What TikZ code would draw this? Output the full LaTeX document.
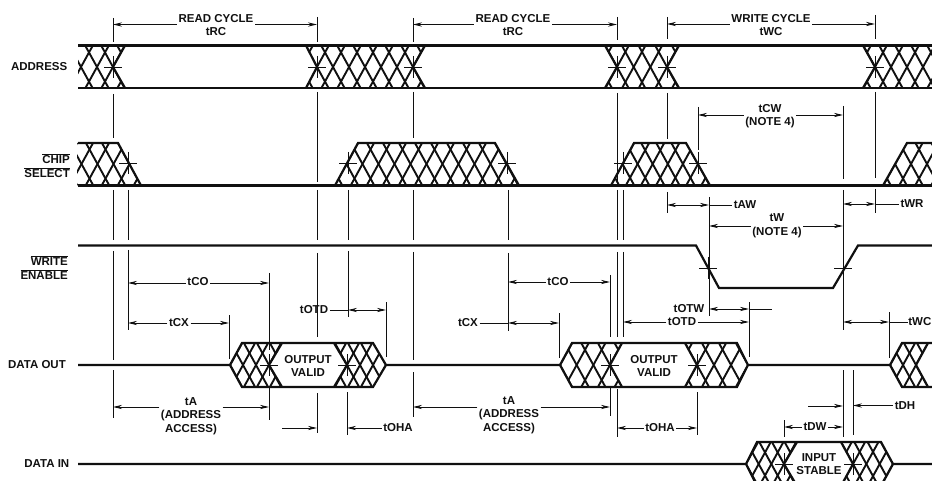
\documentclass[tikz,border=0pt]{standalone}
\usepackage{fontspec}
\setmainfont{Liberation Sans}
\usetikzlibrary{arrows.meta}
\definecolor{ink}{HTML}{101010}
\tikzset{
  x=1pt,y=-1pt,
  sig/.style={draw=ink,line width=2.2pt,line join=miter},
  hatchline/.style={draw=ink,line width=1.9pt},
  ext/.style={draw=ink,line width=0.9pt},
  mark line/.style={draw=ink,line width=0.7pt},
  arr/.style={draw=ink,line width=0.9pt,-{Stealth[length=9pt,width=4.2pt]}},
  arrs/.style={draw=ink,line width=0.9pt,{Stealth[length=9pt,width=4.2pt]}-{Stealth[length=9pt,width=4.2pt]}},
  lbl/.style={inner xsep=1.5pt,inner ysep=0pt,text=ink,align=center,
    font=\bfseries\fontsize{11.5}{13.6}\selectfont},
  sigl/.style={lbl,anchor=east,align=right}
}
% period, x0: phase, ymid, half height, polygon
\newcommand{\hatchreg}[5]{%
  \begin{scope}
    \clip #5 -- cycle;
    \foreach \k in {-9,...,12}{
      \draw[hatchline] ({#2+#1*\k-0.55*#4},{#3-#4}) -- ({#2+#1*\k+0.55*#4},{#3+#4});
      \draw[hatchline] ({#2+#1*\k+0.55*#4},{#3-#4}) -- ({#2+#1*\k-0.55*#4},{#3+#4});
    }
  \end{scope}}
\newcommand{\dimlr}[4]{%
  \draw[arr] (#1.west |- 0,#2) -- (#3,#2);
  \draw[arr] (#1.east |- 0,#2) -- (#4,#2);}
\newcommand{\crossmark}[2]{%
  \draw[mark line] ({#1-9},#2) -- ({#1+9},#2) ({#1},{#2-11}) -- ({#1},{#2+11});}
\begin{document}
\begin{tikzpicture}
\useasboundingbox (0,0) rectangle (932,481);
\clip (0,0) rectangle (932,481);

% ---------- ADDRESS
\hatchreg{16}{113}{67}{21.5}{(78,45.5) -- (125,45.5) -- (113,67) -- (125,88.5) -- (78,88.5)}
\hatchreg{16}{317}{67}{21.5}{(306,45.5) -- (425,45.5) -- (413,67) -- (425,88.5) -- (306,88.5) -- (317,67)}
\hatchreg{16.67}{617}{67}{21.5}{(605,45.5) -- (679,45.5) -- (667,67) -- (679,88.5) -- (605,88.5) -- (617,67)}
\hatchreg{16}{875}{67}{21.5}{(863,45.5) -- (940,45.5) -- (940,88.5) -- (863,88.5) -- (875,67)}
\draw[sig] (78,45.5) -- (932,45.5) (78,88) -- (932,88);
\draw[sig] (125,45.5) -- (113,67) -- (125,88)
           (306,45.5) -- (317,67) -- (306,88)
           (425,45.5) -- (413,67) -- (425,88)
           (605,45.5) -- (617,67) -- (605,88)
           (679,45.5) -- (667,67) -- (679,88)
           (863,45.5) -- (875,67) -- (863,88);

% ---------- CHIP SELECT
\hatchreg{16}{129.5}{164}{21.5}{(77,143) -- (118,143) -- (141,185.5) -- (77,185.5)}
\hatchreg{16}{346.5}{164}{21.5}{(335,185.5) -- (358,143) -- (495,143) -- (519,185.5)}
\hatchreg{15.1}{622.5}{164}{21.5}{(611,185.5) -- (634,143) -- (686,143) -- (710,185.5)}
\hatchreg{16}{895}{164}{21.5}{(883,185.5) -- (907,143) -- (940,143) -- (940,185.5)}
\draw[sig] (78,143) -- (118,143) -- (141,185.5);
\draw[sig] (335,185.5) -- (358,143) -- (495,143) -- (519,185.5);
\draw[sig] (611,185.5) -- (634,143) -- (686,143) -- (710,185.5);
\draw[sig] (883,185.5) -- (907,143) -- (932,143);
\draw[sig] (78,185.5) -- (932,185.5);

% ---------- WRITE ENABLE
\draw[sig] (78,245.5) -- (696,245.5) -- (719,288) -- (833,288) -- (858,245.5) -- (932,245.5);

% ---------- DATA OUT
\hatchreg{13}{230}{365}{22}{(230,365) -- (242,343) -- (282,343) -- (269,365) -- (282,387) -- (242,387)}
\hatchreg{13}{386}{365}{22}{(334,343) -- (373,343) -- (386,365) -- (373,387) -- (334,387) -- (347,365)}
\hatchreg{16.67}{560}{365}{22}{(560,365) -- (572,343) -- (622,343) -- (610,365) -- (622,387) -- (572,387)}
\hatchreg{17}{748}{365}{22}{(685,343) -- (737,343) -- (748,365) -- (737,387) -- (685,387) -- (697,365)}
\hatchreg{13}{890}{365}{22}{(890,365) -- (902,343) -- (928,343) -- (916,365) -- (928,387) -- (902,387)}
\draw[sig] (78,365) -- (230,365) -- (242,343) -- (373,343) -- (386,365) -- (560,365)
           -- (572,343) -- (737,343) -- (748,365) -- (890,365) -- (902,343) -- (932,343);
\draw[sig] (230,365) -- (242,387) -- (373,387) -- (386,365);
\draw[sig] (560,365) -- (572,387) -- (737,387) -- (748,365);
\draw[sig] (890,365) -- (902,387) -- (932,387);
\draw[sig] (282,343) -- (269,365) -- (282,387)
           (334,343) -- (347,365) -- (334,387)
           (622,343) -- (610,365) -- (622,387)
           (685,343) -- (697,365) -- (685,387)
           (928,343) -- (916,365) -- (928,387);

% ---------- DATA IN
\hatchreg{12.67}{746}{464}{22}{(746,464) -- (757,442) -- (797,442) -- (784,464) -- (797,486) -- (757,486)}
\hatchreg{13.33}{893}{464}{22}{(841,442) -- (881,442) -- (893,464) -- (881,486) -- (841,486) -- (853,464)}
\draw[sig] (78,464) -- (746,464) -- (757,442) -- (881,442) -- (893,464) -- (932,464);
\draw[sig] (746,464) -- (757,486) -- (881,486) -- (893,464);
\draw[sig] (797,442) -- (784,464) -- (797,486)
           (841,442) -- (853,464) -- (841,486);

% ---------- crossing marks
\foreach \x/\y in {113/67,317/67,413/67,617/67,667/67,875/67,
  128/163,348/163,507/163,623/163,698/163,
  708/268,843/268,269/365,347/365,610/365,697/365,784/464,853/464}{\crossmark{\x}{\y}}

% ---------- extension lines
\foreach \x/\a/\b in {
  113/18/42, 113/94/138, 113/190/240, 113/251/360, 113/370/418,
  128/190/240, 128/250/330,
  317/17/42, 317/92/182, 317/190/240, 317/253/337, 317/393/433,
  348/190/240, 348/251/317,
  413/18/42, 413/92/138, 413/190/240, 413/252/360, 413/372/417,
  269/273/350, 269/388/420, 229/315/359, 386/302/357, 347/392/435,
  508/190/240, 508/253/331,
  617/17/40, 617/93/182, 617/190/240, 617/252/337, 617/389/437,
  623/190/240, 623/252/337, 610/275/337, 610/388/416, 559/313/358,
  667/17/39, 667/93/139, 667/192/213,
  698/107/150, 709/197/316,
  843/106/179, 843/190/330, 843/370/437,
  875/15/39, 875/92/178, 875/189/213,
  889/312/358, 749/302/357, 697/392/435, 784/420/437, 853/370/435}
  {\draw[ext] (\x,\a) -- (\x,\b);}

% ---------- signal names
\node[sigl] (addr) at (69,67) {ADDRESS};
\node[sigl] (chip) at (71.5,165.5) {\(\overline{\hbox{CHIP}}\)\\\(\overline{\hbox{SELECT}}\)};
\node[sigl] (wen) at (69.5,267.5) {\(\overline{\hbox{WRITE}}\)\\\(\overline{\hbox{ENABLE}}\)};
\node[sigl] (dout) at (67.5,364.5) {DATA OUT};
\node[sigl] (din) at (71,463.5) {DATA IN};

% ---------- inside labels
\node[lbl] (ov1) at (308,366) {OUTPUT\\VALID};
\node[lbl] (ov2) at (654,366) {OUTPUT\\VALID};
\node[lbl] (is1) at (819,464) {INPUT\\STABLE};

% ---------- cycle dimensions
\node[lbl] (rc1) at (216,25) {READ CYCLE\\tRC};
\node[lbl] (rc2) at (513,25) {READ CYCLE\\tRC};
\node[lbl] (wc1) at (771,25) {WRITE CYCLE\\tWC};
\dimlr{rc1}{24.5}{113}{317}
\dimlr{rc2}{24.5}{413}{617}
\dimlr{wc1}{24}{667}{875}

\node[lbl] (cw) at (770,116) {tCW\\(NOTE 4)};
\dimlr{cw}{115}{698}{843}
\node[lbl] (w) at (777,226) {tW\\(NOTE 4)};
\dimlr{w}{226}{709}{843}

\node[lbl] (aw) at (745,205) {tAW};
\draw[arrs] (667,205) -- (709,205);
\draw[ext] (709,205) -- (aw);
\node[lbl] (wr) at (912,204) {tWR};
\draw[arrs] (843,204) -- (875,204);
\draw[ext] (875,204) -- (wr);

% ---------- first read
\node[lbl] (co1) at (198,282) {tCO};
\dimlr{co1}{283}{128}{269}
\node[lbl] (cx1) at (179,323) {tCX};
\dimlr{cx1}{323}{128}{229}
\node[lbl] (otd1) at (314,310) {tOTD};
\draw[ext] (otd1) -- (348,310);
\draw[arrs] (348,310) -- (386,310);
\node[lbl] (a1) at (191,416) {tA\\(ADDRESS\\ACCESS)};
\dimlr{a1}{407}{113}{269}
\coordinate (oh1s) at (282,428);
\node[lbl] (oha1) at (398,428) {tOHA};
\draw[arr] (oh1s) -- (317,428);
\draw[arr] (oha1) -- (347,428);

% ---------- second read
\node[lbl] (co2) at (558,282) {tCO};
\dimlr{co2}{282}{508}{610}
\node[lbl] (cx2) at (468,323) {tCX};
\draw[ext] (cx2) -- (508,323);
\draw[arrs] (508,323) -- (559,323);
\node[lbl] (a2) at (509,415) {tA\\(ADDRESS\\ACCESS)};
\dimlr{a2}{407}{413}{610}
\node[lbl] (oha2) at (660,428) {tOHA};
\dimlr{oha2}{428}{617}{697}

% ---------- write
\node[lbl] (otw) at (689,309) {tOTW};
\coordinate (otwe) at (772,309);
\draw[arrs] (709,309) -- (749,309);
\draw[ext] (749,309) -- (otwe);
\node[lbl] (otd2) at (682,322) {tOTD};
\dimlr{otd2}{322}{623}{749}
\node[lbl,anchor=east,inner xsep=0.5pt] (wh) at (932,322) {tWC};
\draw[arrs] (843,322) -- (889,322);
\draw[ext] (889,322) -- (wh);
\coordinate (dhs) at (808,406);
\node[lbl] (dh) at (905,405.5) {tDH};
\draw[arr] (dhs) -- (843,406);
\draw[arr] (dh) -- (853,405.5);
\node[lbl] (dw) at (815,427) {tDW};
\dimlr{dw}{427}{784}{843}
\end{tikzpicture}
\end{document}
